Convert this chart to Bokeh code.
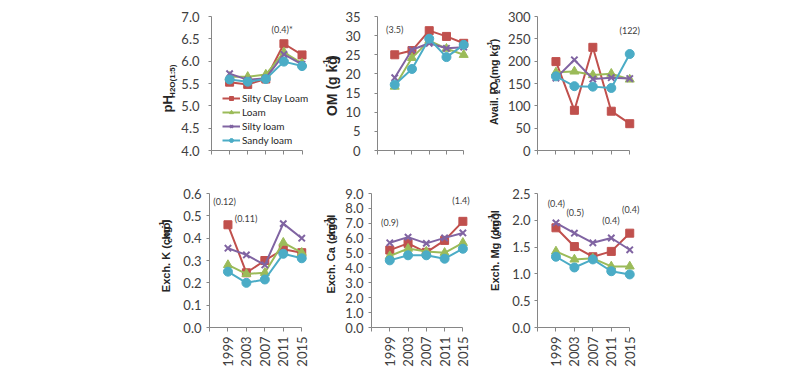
import math
from bokeh.plotting import figure
from bokeh.models import Label, FixedTicker, Legend, LegendItem, Range1d
from bokeh.core.properties import value
from bokeh.layouts import column, row
from bokeh.embed import file_html
from bokeh.resources import INLINE

years = ["1999", "2003", "2007", "2011", "2015"]
series_names = ["Silty Clay Loam", "Loam", "Silty loam", "Sandy loam"]
series_colors = ["#C0504D", "#9BBB59", "#8064A2", "#4BACC6"]
series_markers = ["square", "triangle", "x", "circle"]

ph_scl = [5.53, 5.48, 5.60, 6.39, 6.14]
ph_loam = [5.65, 5.65, 5.70, 6.20, 5.95]
ph_sl = [5.72, 5.58, 5.62, 6.15, 5.93]
ph_sandy = [5.59, 5.54, 5.60, 5.99, 5.89]

om_scl = [25.0, 26.1, 31.3, 29.8, 28.0]
om_loam = [16.7, 24.2, 28.7, 26.6, 25.0]
om_sl = [19.0, 26.3, 28.0, 26.7, 27.0]
om_sandy = [17.2, 21.3, 29.2, 24.4, 27.6]

p_scl = [199, 90, 231, 88, 60]
p_loam = [175, 177, 169, 172, 159]
p_sl = [162, 203, 160, 163, 161]
p_sandy = [166, 144, 143, 140, 216]

k_scl = [0.46, 0.245, 0.30, 0.35, 0.335]
k_loam = [0.28, 0.24, 0.245, 0.38, 0.335]
k_sl = [0.355, 0.325, 0.28, 0.465, 0.40]
k_sandy = [0.25, 0.20, 0.215, 0.33, 0.31]

ca_scl = [5.2, 5.65, 5.05, 5.85, 7.13]
ca_loam = [4.8, 5.3, 5.1, 5.02, 5.69]
ca_sl = [5.69, 6.07, 5.65, 6.02, 6.35]
ca_sandy = [4.51, 4.85, 4.85, 4.62, 5.29]

mg_scl = [1.86, 1.51, 1.32, 1.42, 1.76]
mg_loam = [1.42, 1.27, 1.29, 1.14, 1.14]
mg_sl = [1.95, 1.76, 1.58, 1.67, 1.45]
mg_sandy = [1.32, 1.12, 1.27, 1.05, 0.99]

# LSD notes: (text, category index, value)
ph_notes = [("(0.4)*", 2.9, 6.71)]
om_notes = [("(3.5)", 0.0, 31.7)]
p_notes = [("(122)", 4.0, 268)]
k_notes = [("(0.12)", -0.18, 0.564), ("(0.11)", 0.98, 0.488)]
ca_notes = [("(0.9)", 0.0, 7.05), ("(1.4)", 3.9, 8.53)]
mg_notes = [("(0.4)", 0.02, 2.31), ("(0.5)", 1.04, 2.15), ("(0.4)", 2.98, 2.0), ("(0.4)", 4.05, 2.2)]

FONT = "Lato"
LABEL_FONT = "Liberation Sans"
TEXT_COLOR = "#404040"
AXIS_COLOR = "#868686"
TOP_H, BOT_H = 170, 205

# Arial/Liberation Sans Bold advance widths (em)
W = {' ': 0.278, '.': 0.278, '(': 0.333, ')': 0.333, '-': 0.333, ':': 0.333,
     'A': 0.722, 'C': 0.722, 'E': 0.667, 'H': 0.722, 'K': 0.722, 'M': 0.833, 'O': 0.778, 'P': 0.667,
     'a': 0.556, 'c': 0.556, 'g': 0.611, 'h': 0.611, 'i': 0.278, 'k': 0.556, 'l': 0.278,
     'm': 0.889, 'o': 0.611, 'p': 0.611, 'v': 0.556, 'x': 0.556}


def tw(s, size):
    return sum(W.get(ch, 0.556) for ch in s) * size * 1.03 + 0.6


def label_fig(width, height, labels):
    p = figure(width=width, height=height, output_backend="svg", toolbar_location=None,
               x_range=Range1d(0, width), y_range=Range1d(height, 0),
               x_axis_type=None, y_axis_type=None,
               min_border_left=0, min_border_right=0, min_border_top=0, min_border_bottom=0)
    p.outline_line_color = None
    p.background_fill_color = "white"
    p.border_fill_color = "white"
    for pieces, cx, cy, size, small in labels:
        sizes = [size if k == "n" else small for _, k in pieces]
        widths = [tw(t, s) for (t, _), s in zip(pieces, sizes)]
        y = cy + sum(widths) / 2
        for (t, k), s, w in zip(pieces, sizes, widths):
            dx = 0 if k == "n" else (0.36 * size if k == "sub" else -0.36 * size)
            p.text(x=[cx + dx], y=[y], text=[t], angle=math.pi / 2, text_align="left",
                   text_baseline="middle", text_font=value(LABEL_FONT), text_font_style="bold",
                   text_font_size=value(f"{s}px"), text_color="#262626")
            y -= w
    return p


def make_panel(width, height, bl, br, bt, bb, yr, yticks, fmt, standoff, show_x, series, notes):
    p = figure(width=width, height=height, output_backend="svg", toolbar_location=None,
               x_range=Range1d(-1, 4.8), y_range=Range1d(*yr),
               min_border_left=bl, min_border_right=br, min_border_top=bt, min_border_bottom=bb)
    p.outline_line_color = None
    p.xgrid.visible = False
    p.ygrid.visible = False
    p.background_fill_color = "white"
    p.border_fill_color = "white"

    xa = p.xaxis[0]
    xa.bounds = (-1, 4)
    xa.ticker = FixedTicker(ticks=[-1, 0, 1, 2, 3, 4])
    ov = {-1: ""}
    for i, yv in enumerate(years):
        ov[i] = yv if show_x else ""
    xa.major_label_overrides = ov
    xa.axis_line_color = AXIS_COLOR
    xa.major_tick_line_color = AXIS_COLOR
    xa.major_tick_out = 4
    xa.major_tick_in = 0
    xa.minor_tick_line_color = None
    xa.major_label_orientation = math.pi / 2
    xa.major_label_standoff = 5
    xa.major_label_text_font = FONT
    xa.major_label_text_font_size = "13px"
    xa.major_label_text_color = TEXT_COLOR

    ya = p.yaxis[0]
    ya.ticker = FixedTicker(ticks=yticks)
    ya.major_label_overrides = {t: fmt.format(t) for t in yticks}
    ya.axis_line_color = AXIS_COLOR
    ya.major_tick_line_color = AXIS_COLOR
    ya.major_tick_out = 3
    ya.major_tick_in = 0
    ya.minor_tick_line_color = None
    ya.major_label_standoff = standoff
    ya.major_label_text_font = FONT
    ya.major_label_text_font_size = "13px"
    ya.major_label_text_color = TEXT_COLOR

    xs = list(range(len(years)))
    rends = []
    for vals, c, m in zip(series, series_colors, series_markers):
        lr = p.line(xs, vals, line_color=c, line_width=2)
        sr = p.scatter(xs, vals, marker=m, size=9 if m != "square" else 8,
                       fill_color=c, line_color=c, line_width=2 if m == "x" else 1)
        rends.append((lr, sr))

    for t, xv, yv in notes:
        p.add_layout(Label(x=xv, y=yv, text=t, text_align="center", text_baseline="middle",
                           text_font=FONT, text_font_size="9px", text_color=TEXT_COLOR))
    return p, rends


# column geometry: label strip, chart (left border, frame 107px, right border)
f1, r1 = make_panel(142, TOP_H, 31, 4, 16, 20, (4, 7), [4, 4.5, 5, 5.5, 6, 6.5, 7], "{:.1f}", 9, False,
                    [ph_scl, ph_loam, ph_sl, ph_sandy], ph_notes)
f2, _ = make_panel(138, TOP_H, 28, 3, 16, 20, (0, 35), [0, 5, 10, 15, 20, 25, 30, 35], "{:d}", 14, False,
                   [om_scl, om_loam, om_sl, om_sandy], om_notes)
f3, _ = make_panel(296, TOP_H, 33, 156, 16, 20, (0, 300), [0, 50, 100, 150, 200, 250, 300], "{:d}", 4, False,
                   [p_scl, p_loam, p_sl, p_sandy], p_notes)
f4, _ = make_panel(142, BOT_H, 31, 4, 23, 48, (0, 0.6), [0, 0.1, 0.2, 0.3, 0.4, 0.5, 0.6], "{:.1f}", 5, True,
                   [k_scl, k_loam, k_sl, k_sandy], k_notes)
f5, _ = make_panel(138, BOT_H, 28, 3, 23, 48, (0, 9), [0, 1, 2, 3, 4, 5, 6, 7, 8, 9], "{:.1f}", 5, True,
                   [ca_scl, ca_loam, ca_sl, ca_sandy], ca_notes)
f6, _ = make_panel(296, BOT_H, 33, 156, 23, 48, (0, 2.5), [0, 0.5, 1, 1.5, 2, 2.5], "{:.1f}", 4, True,
                   [mg_scl, mg_loam, mg_sl, mg_sandy], mg_notes)

legend = Legend(items=[LegendItem(label=n, renderers=list(r)) for n, r in zip(series_names, r1)],
                location=(11, 4), background_fill_alpha=0, border_line_alpha=0,
                label_text_font=FONT, label_text_font_size="10px", label_text_color="#262626",
                glyph_width=18, glyph_height=10, label_height=10, spacing=2, padding=0, margin=0,
                label_standoff=2)
f1.add_layout(legend)

unit_c = [("c", "sub"), (" kg", "n"), ("-1", "sup"), (")", "n")]
l1 = label_fig(178, TOP_H, [([("pH", "n"), ("H2O(1:5)", "sub")], 167, 95, 13, 8)])
l2 = label_fig(22, TOP_H, [([("OM (g kg", "n"), ("-1", "sup"), (")", "n")], 11, 88, 14, 9)])
l3 = label_fig(24, TOP_H, [([("Avail. P", "n"), ("2", "sub"), ("O", "n"), ("5", "sub"),
                             (" (mg kg", "n"), ("-1", "sup"), (")", "n")], 13, 83, 10.5, 7.5)])
l4 = label_fig(178, BOT_H, [([("Exch. K (cmol", "n")] + unit_c, 165, 96, 11, 8)])
l5 = label_fig(22, BOT_H, [([("Exch. Ca (cmol", "n")] + unit_c, 10, 95, 11, 8)])
l6 = label_fig(24, BOT_H, [([("Exch. Mg (cmol", "n")] + unit_c, 14, 90, 11, 8)])

layout = column(row(l1, f1, l2, f2, l3, f3), row(l4, f4, l5, f5, l6, f6))
open("out.html", "w").write(file_html(layout, INLINE))
